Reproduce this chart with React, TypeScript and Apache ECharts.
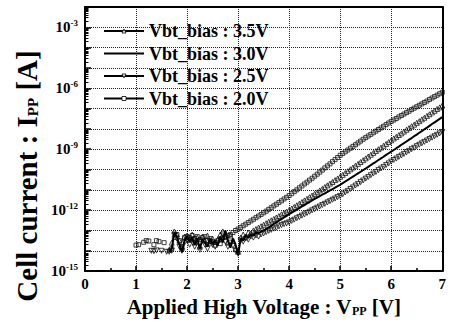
import { useEffect, useRef } from "react";
import * as echarts from "echarts";

// Gate sweep voltage V_PP [V]
const VPP = [
  1.0, 1.05, 1.1, 1.15, 1.2, 1.25, 1.3, 1.35, 1.4, 1.45,
  1.5, 1.55, 1.6, 1.65, 1.7, 1.75, 1.8, 1.85, 1.9, 1.95,
  2.0, 2.05, 2.1, 2.15, 2.2, 2.25, 2.3, 2.35, 2.4, 2.45,
  2.5, 2.55, 2.6, 2.65, 2.7, 2.75, 2.8, 2.85, 2.9, 2.95,
  3.0, 3.05, 3.1, 3.15, 3.2, 3.25, 3.3, 3.35, 3.4, 3.45,
  3.5, 3.55, 3.6, 3.65, 3.7, 3.75, 3.8, 3.85, 3.9, 3.95,
  4.0, 4.05, 4.1, 4.15, 4.2, 4.25, 4.3, 4.35, 4.4, 4.45,
  4.5, 4.55, 4.6, 4.65, 4.7, 4.75, 4.8, 4.85, 4.9, 4.95,
  5.0, 5.05, 5.1, 5.15, 5.2, 5.25, 5.3, 5.35, 5.4, 5.45,
  5.5, 5.55, 5.6, 5.65, 5.7, 5.75, 5.8, 5.85, 5.9, 5.95,
  6.0, 6.05, 6.1, 6.15, 6.2, 6.25, 6.3, 6.35, 6.4, 6.45,
  6.5, 6.55, 6.6, 6.65, 6.7, 6.75, 6.8, 6.85, 6.9, 6.95,
  7.0,
];

// log10 of cell current I_PP [A], one entry per VPP sample (null = below floor)
const LOG_I_35 = [
  null, null, null, null, null, null, null, null, null, null,
  null, null, null, -13.95, -13.6, -13.05, -13.2, -13.5, -13.85, -13.3,
  -13.25, -13.45, -13.2, -13.6, -13.35, -13.8, -13.3, -13.5, -13.25, -13.6,
  -13.4, -13.7, -13.45, -13.2, -13.05, -13.3, -13.6, -13.25, -13.5, -13.9,
  -14.05, -13.35, -13.2, -13.3, -13.1, -13.15, -13.0, -12.93, -12.86, -12.79,
  -12.72, -12.64, -12.57, -12.5, -12.43, -12.36, -12.29, -12.21, -12.14, -12.07,
  -12.0, -11.92, -11.84, -11.76, -11.68, -11.6, -11.52, -11.44, -11.36, -11.28,
  -11.2, -11.12, -11.03, -10.95, -10.86, -10.78, -10.69, -10.61, -10.52, -10.44,
  -10.35, -10.26, -10.17, -10.08, -9.99, -9.9, -9.81, -9.72, -9.63, -9.54,
  -9.45, -9.36, -9.27, -9.18, -9.09, -9.0, -8.92, -8.83, -8.74, -8.65,
  -8.56, -8.47, -8.39, -8.3, -8.22, -8.13, -8.04, -7.96, -7.87, -7.79,
  -7.7, -7.62, -7.53, -7.45, -7.36, -7.28, -7.19, -7.11, -7.02, -6.94,
  -6.85,
];

const LOG_I_30 = [
  null, null, null, null, null, null, null, null, null, null,
  null, null, null, -14.05, -13.9, -13.1, -13.3, -13.7, -14.05, -13.5,
  -13.3, -13.55, -13.35, -13.7, -13.4, -13.9, -13.45, -13.6, -13.8, -13.4,
  -13.65, -13.5, -13.75, -13.3, -13.6, -13.0, -13.5, -13.85, -13.4, -13.7,
  -14.2, -13.4, -13.5, -13.25, -13.35, -13.2, -13.25, -13.1, -13.15, -13.05,
  -13.0, -12.92, -12.84, -12.76, -12.68, -12.6, -12.52, -12.44, -12.36, -12.28,
  -12.2, -12.12, -12.05, -11.97, -11.9, -11.82, -11.75, -11.67, -11.6, -11.52,
  -11.45, -11.38, -11.31, -11.24, -11.17, -11.1, -11.03, -10.96, -10.89, -10.82,
  -10.75, -10.67, -10.59, -10.51, -10.43, -10.35, -10.27, -10.19, -10.11, -10.03,
  -9.95, -9.87, -9.78, -9.7, -9.62, -9.53, -9.45, -9.37, -9.28, -9.2,
  -9.12, -9.04, -8.95, -8.87, -8.78, -8.7, -8.62, -8.53, -8.45, -8.36,
  -8.28, -8.19, -8.11, -8.02, -7.94, -7.85, -7.76, -7.68, -7.59, -7.51,
  -7.42,
];

const LOG_I_25 = [
  null, null, null, null, null, null, -14.0, -14.02, -13.98, null,
  -14.0, null, -14.05, -14.05, -14.0, -13.2, -13.4, -13.8, -14.0, -13.6,
  -13.5, -13.7, -13.45, -13.8, -13.55, -13.95, -13.5, -13.7, -13.9, -13.55,
  -13.7, -13.8, -13.6, -13.45, -13.2, -13.55, -13.8, -13.6, -13.75, -14.0,
  -14.15, -13.5, -13.55, -13.4, -13.45, -13.3, -13.35, -13.25, -13.3, -13.2,
  -13.15, -13.08, -13.02, -12.97, -12.91, -12.86, -12.8, -12.74, -12.69, -12.65,
  -12.6, -12.53, -12.47, -12.4, -12.34, -12.27, -12.21, -12.14, -12.08, -12.01,
  -11.95, -11.88, -11.82, -11.75, -11.69, -11.62, -11.56, -11.49, -11.43, -11.36,
  -11.3, -11.22, -11.13, -11.05, -10.96, -10.88, -10.79, -10.71, -10.62, -10.54,
  -10.45, -10.37, -10.28, -10.2, -10.12, -10.03, -9.95, -9.87, -9.78, -9.7,
  -9.61, -9.53, -9.46, -9.38, -9.31, -9.23, -9.15, -9.08, -9.0, -8.93,
  -8.85, -8.78, -8.71, -8.64, -8.57, -8.5, -8.43, -8.36, -8.29, -8.22,
  -8.15,
];

const LOG_I_20 = [
  -13.72, -13.7, null, -13.58, -13.5, -13.52, null, -13.7, -13.5, -13.55,
  null, -13.6, null, null, -13.9, -13.35, -13.2, -13.5, -13.8, -13.35,
  -13.3, -13.35, -13.25, -13.4, -13.3, -13.45, -13.35, -13.3, -13.5, -13.4,
  -13.55, -13.6, -13.5, -13.65, -13.35, -13.3, -13.25, -13.2, -13.1, -13.0,
  -12.93, -12.85, -12.77, -12.69, -12.61, -12.53, -12.45, -12.37, -12.29, -12.21,
  -12.13, -12.05, -11.96, -11.88, -11.79, -11.71, -11.62, -11.54, -11.45, -11.37,
  -11.28, -11.19, -11.09, -11.0, -10.9, -10.81, -10.71, -10.62, -10.52, -10.43,
  -10.33, -10.23, -10.13, -10.03, -9.92, -9.82, -9.72, -9.61, -9.51, -9.41,
  -9.3, -9.21, -9.13, -9.04, -8.95, -8.86, -8.78, -8.69, -8.6, -8.51,
  -8.43, -8.35, -8.27, -8.19, -8.11, -8.03, -7.95, -7.87, -7.79, -7.71,
  -7.63, -7.56, -7.49, -7.41, -7.34, -7.27, -7.2, -7.13, -7.05, -6.98,
  -6.91, -6.84, -6.77, -6.7, -6.63, -6.55, -6.48, -6.41, -6.34, -6.27,
  -6.2,
];

const SERIES_NAMES = [
  "Vbt_bias : 3.5V",
  "Vbt_bias : 3.0V",
  "Vbt_bias : 2.5V",
  "Vbt_bias : 2.0V",
];

// decades that carry a "10^n" tick label
const Y_LABEL_EXPONENTS = [-15, -12, -9, -6, -3];
const Y_DECADES = [-15, -14, -13, -12, -11, -10, -9, -8, -7, -6, -5, -4, -3];
const MINOR_MANTISSAS = [2, 3, 4, 5, 6, 7, 8, 9];

const FONT = "'Liberation Serif', 'Times New Roman', serif";
const GRID_LINE = { color: "#222", width: 1, type: "dotted" as const };
const Y_MIN = 1e-15;
const Y_MAX = 1e-2;

function toPoints(logs: (number | null)[]) {
  const pts: [number, number][] = [];
  logs.forEach((e, i) => {
    if (e !== null) pts.push([VPP[i], Math.pow(10, e)]);
  });
  return pts;
}

export default function App() {
  const ref = useRef<HTMLDivElement>(null);

  useEffect(() => {
    if (!ref.current) return;
    const chart = echarts.init(ref.current, undefined, { renderer: "svg" });

    const minorTicks: number[] = [];
    Y_DECADES.forEach((d) =>
      MINOR_MANTISSAS.forEach((m) => minorTicks.push(m * Math.pow(10, d)))
    );

    const hollow = (symbol: string, size: number, rotate = 0) => ({
      type: "line" as const,
      symbol,
      symbolSize: size,
      symbolRotate: rotate,
      showSymbol: true,
      showAllSymbol: true,
      silent: true,
      lineStyle: { width: 0, opacity: 0 },
      itemStyle: {
        color: "rgba(0,0,0,0)",
        borderColor: "#111",
        borderWidth: 0.8,
      },
    });

    const legendSymbolItem = (name: string) => ({
      name,
      lineStyle: { opacity: 1, width: 1.8, color: "#000" },
      itemStyle: { color: "#fff", borderColor: "#000", borderWidth: 0.8 },
    });

    const frameAxis = {
      axisTick: { show: false },
      axisLabel: { show: false },
      splitLine: { show: false },
      axisLine: { show: true, onZero: false, lineStyle: { color: "#000", width: 2 } },
    };

    chart.setOption({
      animation: false,
      backgroundColor: "#fff",
      grid: { left: 85, right: 2, top: 7, bottom: 48 },
      legend: {
        orient: "vertical",
        left: 103,
        top: 22,
        padding: 0,
        itemWidth: 40,
        itemHeight: 5,
        itemGap: 4.5,
        selectedMode: false,
        textStyle: {
          fontFamily: FONT,
          fontWeight: "bold",
          fontSize: 18,
          color: "#000",
        },
        data: [
          legendSymbolItem(SERIES_NAMES[0]),
          {
            name: SERIES_NAMES[1],
            lineStyle: { opacity: 1, width: 2, color: "#000" },
            itemStyle: { opacity: 0 },
          },
          legendSymbolItem(SERIES_NAMES[2]),
          legendSymbolItem(SERIES_NAMES[3]),
        ],
      },
      xAxis: [
        {
          type: "value",
          min: 0,
          max: 7,
          interval: 1,
          name: "Applied High Voltage : V{sub|PP} [V]",
          nameLocation: "middle",
          nameGap: 19,
          nameTextStyle: {
            fontFamily: FONT,
            fontWeight: "bold",
            fontSize: 21,
            color: "#000",
            rich: {
              sub: {
                fontFamily: FONT,
                fontWeight: "bold",
                fontSize: 12,
                color: "#000",
                padding: [9, 0, 0, 0],
              },
            },
          },
          axisLine: { onZero: false, lineStyle: { color: "#000", width: 2 } },
          axisTick: { inside: true, length: 5, lineStyle: { color: "#000", width: 1.5 } },
          minorTick: {
            show: true,
            splitNumber: 2,
            length: 3,
            lineStyle: { color: "#000", width: 1.5 },
          },
          axisLabel: {
            margin: 5,
            fontFamily: FONT,
            fontWeight: "bold",
            fontSize: 15,
            color: "#000",
          },
          splitLine: { show: true, lineStyle: GRID_LINE },
        },
        { type: "value", min: 0, max: 7, position: "top", ...frameAxis },
      ],
      yAxis: [
        {
          type: "log",
          logBase: 10,
          min: Y_MIN,
          max: Y_MAX,
          interval: 1,
          axisLine: { show: true, lineStyle: { color: "#000", width: 2 } },
          axisTick: { inside: true, length: 6, lineStyle: { color: "#000", width: 1.5 } },
          axisLabel: {
            margin: 7,
            formatter: (v: number) => {
              const e = Math.round(Math.log10(v));
              return Y_LABEL_EXPONENTS.includes(e) ? `{b|10}{s|${e}}` : "";
            },
            rich: {
              b: { fontFamily: FONT, fontWeight: "bold", fontSize: 15, color: "#000" },
              s: {
                fontFamily: FONT,
                fontWeight: "bold",
                fontSize: 9,
                color: "#000",
                padding: [0, 0, 9, 0],
              },
            },
          },
          splitLine: { show: true, lineStyle: GRID_LINE },
        },
        {
          type: "log",
          logBase: 10,
          min: Y_MIN,
          max: Y_MAX,
          position: "left",
          axisLine: { show: false },
          axisTick: {
            show: true,
            inside: true,
            length: 3.5,
            customValues: minorTicks,
            lineStyle: { color: "#000", width: 1 },
          },
          axisLabel: { show: false },
          splitLine: { show: false },
        },
        { type: "log", logBase: 10, min: Y_MIN, max: Y_MAX, position: "right", ...frameAxis },
      ],
      graphic: [
        {
          type: "text",
          x: 27,
          y: 176,
          rotation: Math.PI / 2,
          silent: true,
          style: {
            text: "Cell current : I{sub|PP} [A]",
            fontFamily: FONT,
            fontWeight: "bold",
            fontSize: 29,
            fill: "#000",
            align: "center",
            verticalAlign: "middle",
            rich: {
              sub: {
                fontFamily: FONT,
                fontWeight: "bold",
                fontSize: 15,
                fill: "#000",
                padding: [12, 0, 0, 0],
              },
            },
          },
        },
      ],
      series: [
        { ...hollow("triangle", 5), name: SERIES_NAMES[0], data: toPoints(LOG_I_35), z: 3 },
        {
          type: "line",
          name: SERIES_NAMES[1],
          data: toPoints(LOG_I_30),
          showSymbol: false,
          symbol: "none",
          silent: true,
          color: "#000",
          lineStyle: { color: "#000", width: 2 },
          z: 4,
        },
        { ...hollow("triangle", 5, 180), name: SERIES_NAMES[2], data: toPoints(LOG_I_25), z: 3 },
        { ...hollow("rect", 4), name: SERIES_NAMES[3], data: toPoints(LOG_I_20), z: 3 },
      ],
    });

    return () => chart.dispose();
  }, []);

  return (
    <div
      ref={ref}
      style={{ position: "fixed", left: 0, top: 0, width: 449, height: 322 }}
    />
  );
}
